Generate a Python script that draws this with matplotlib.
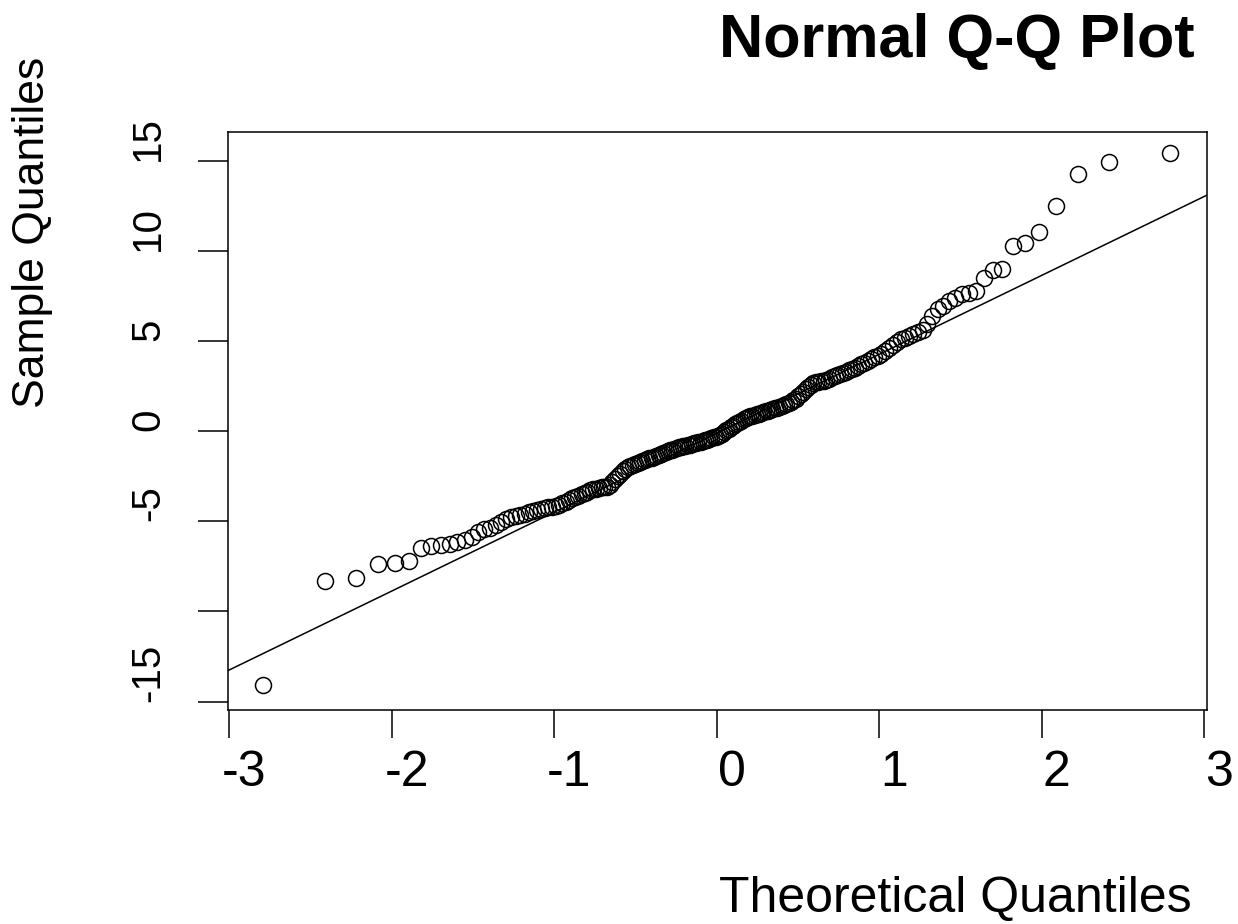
"""
Normal Q-Q plot of the sample with its quartile reference line -> out.png
"""
import numpy as np
import matplotlib
matplotlib.use("Agg")
import matplotlib.pyplot as plt
from matplotlib.transforms import ScaledTranslation
from statistics import NormalDist

plt.rcParams["font.family"] = "Liberation Sans"

# Sorted sample values
sample = [
    -14.09, -8.30, -8.13, -7.36, -7.32, -7.19, -6.51, -6.38, -6.30, -6.25,
    -6.18, -6.06, -5.88, -5.62, -5.46, -5.36, -5.22, -5.03, -4.87, -4.79,
    -4.72, -4.65, -4.58, -4.50, -4.44, -4.39, -4.33, -4.28, -4.23, -4.19,
    -4.14, -4.08, -4.00, -3.92, -3.83, -3.74, -3.66, -3.58, -3.50, -3.43,
    -3.36, -3.29, -3.24, -3.19, -3.15, -3.12, -3.10, -3.09, -3.02, -2.84,
    -2.68, -2.52, -2.36, -2.22, -2.10, -2.01, -1.94, -1.88, -1.82, -1.77,
    -1.72, -1.67, -1.62, -1.57, -1.52, -1.47, -1.42, -1.37, -1.32, -1.27,
    -1.22, -1.17, -1.12, -1.07, -1.03, -0.99, -0.95, -0.91, -0.88, -0.85,
    -0.82, -0.78, -0.75, -0.72, -0.69, -0.66, -0.62, -0.59, -0.55, -0.52,
    -0.48, -0.44, -0.40, -0.35, -0.31, -0.26, -0.21, -0.14, -0.06, 0.04,
    0.13, 0.22, 0.30, 0.38, 0.45, 0.52, 0.58, 0.64, 0.70, 0.76,
    0.81, 0.85, 0.89, 0.93, 0.97, 1.01, 1.05, 1.09, 1.13, 1.17,
    1.21, 1.25, 1.29, 1.34, 1.39, 1.44, 1.50, 1.56, 1.62, 1.70,
    1.80, 1.92, 2.04, 2.18, 2.32, 2.46, 2.58, 2.66, 2.71, 2.74,
    2.77, 2.80, 2.84, 2.90, 2.97, 3.04, 3.10, 3.16, 3.22, 3.29,
    3.36, 3.44, 3.52, 3.60, 3.69, 3.79, 3.89, 3.98, 4.08, 4.18,
    4.28, 4.42, 4.58, 4.76, 4.94, 5.08, 5.18, 5.28, 5.40, 5.50,
    5.62, 5.95, 6.40, 6.75, 6.95, 7.20, 7.40, 7.58, 7.68, 7.78,
    8.50, 8.95, 9.00, 10.26, 10.40, 11.05, 12.48, 14.25, 14.94, 15.40,
]

x_ticks = [-3, -2, -1, 0, 1, 2, 3]
y_ticks = [-15, -10, -5, 0, 5, 10, 15]
y_tick_labels = ["-15", "", "-5", "0", "5", "10", "15"]

# Theoretical quantiles at ppoints positions (a = 0.5 for n > 10)
y = np.sort(np.array(sample))
n = len(y)
nd = NormalDist()
theo = np.array([nd.inv_cdf((i - 0.5) / n) for i in range(1, n + 1)])

# qqline: through the first and third quartiles
q1, q3 = np.percentile(y, [25, 75])
z1, z3 = nd.inv_cdf(0.25), nd.inv_cdf(0.75)
slope = (q3 - q1) / (z3 - z1)
intercept = q1 - slope * z1

fig = plt.figure(figsize=(12.38, 9.24), dpi=100)
ax = fig.add_axes([0.1842, 0.2316, 0.7908, 0.6255])

ax.plot(theo, y, "o", mfc="none", mec="black", ms=11.5, mew=1.1)
ax.axline((0, intercept), slope=slope, color="black", lw=1.1)

ax.set_xlim(-3.008, 3.018)
ax.set_ylim(-15.47, 16.58)

for s in ax.spines.values():
    s.set_linewidth(1.1)

ax.set_xticks(x_ticks)
ax.set_xticklabels([str(t) for t in x_ticks])
ax.tick_params(axis="x", labelsize=36, length=20, width=1.1, pad=9)
shift = ScaledTranslation(0.15, 0, fig.dpi_scale_trans)
for lbl in ax.get_xticklabels():
    lbl.set_transform(lbl.get_transform() + shift)

ax.set_yticks(y_ticks)
ax.set_yticklabels(y_tick_labels, rotation=90, ha="center", va="bottom")
ax.tick_params(axis="y", labelsize=29, length=21.6, width=1.1, pad=36)

fig.text(0.965, 0.955, "Normal Q-Q Plot", fontsize=44, fontweight="bold",
         ha="right", va="center")
fig.text(0.772, 0.027, "Theoretical Quantiles", fontsize=36,
         ha="center", va="center")
fig.text(0.026, 0.749, "Sample Quantiles", fontsize=32, rotation=90,
         ha="center", va="center")

fig.savefig("out.png", dpi=100)
